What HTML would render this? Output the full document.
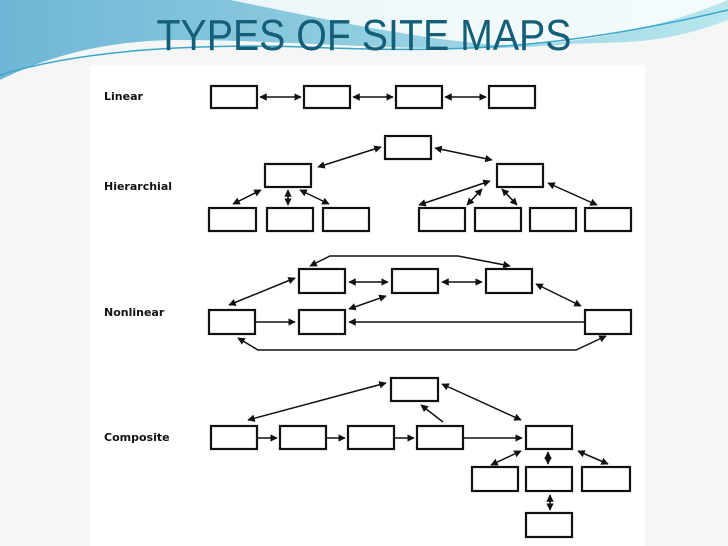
<!DOCTYPE html>
<html><head><meta charset="utf-8"><style>
html,body{margin:0;padding:0;width:728px;height:546px;overflow:hidden;background:#f5f6f6;}
</style></head><body>
<svg width="728" height="546" viewBox="0 0 728 546" xmlns="http://www.w3.org/2000/svg" style="position:absolute;left:0;top:0">
<defs>
<linearGradient id="bg" x1="0" y1="0" x2="1" y2="0">
<stop offset="0" stop-color="#6fb6d6"/><stop offset="0.5" stop-color="#8fcde0"/><stop offset="1" stop-color="#b8e6ee"/></linearGradient>
<marker id="a" viewBox="0 0 10 10" refX="9" refY="5" markerWidth="5" markerHeight="5" orient="auto-start-reverse"><path d="M0,0L10,5L0,10z" fill="#111"/></marker>
</defs>
<rect width="728" height="546" fill="#f5f6f6"/>
<path d="M0,0H728V20C650,50 600,40 560,45C430,55 300,40 180,40C100,40 40,60 0,80Z" fill="url(#bg)"/>
<path d="M230,0C330,20 420,40 500,45C600,45 680,20 728,0Z" fill="#fff" opacity="0.85"/>
<path d="M0,75C80,50 200,42 330,48C450,52 560,50 728,10" stroke="#3aa7c8" stroke-width="1.5" fill="none"/>
<text x="364" y="50" text-anchor="middle" font-family="Liberation Sans, sans-serif" font-size="44" fill="#155e78" textLength="415" lengthAdjust="spacingAndGlyphs">TYPES OF SITE MAPS</text>
<rect x="90" y="65" width="555" height="481" fill="#fff"/>
<g font-family="DejaVu Sans, sans-serif" font-weight="bold" font-size="11" fill="#111">
<text x="104" y="100">Linear</text><text x="104" y="190">Hierarchial</text><text x="104" y="316">Nonlinear</text><text x="104" y="441">Composite</text>
</g>
<g fill="#fff" stroke="#111" stroke-width="2.2">
<rect x="211" y="86" width="46" height="22"/><rect x="304" y="86" width="46" height="22"/><rect x="396" y="86" width="46" height="22"/><rect x="489" y="86" width="46" height="22"/>
<rect x="385" y="136" width="46" height="23"/><rect x="265" y="164" width="46" height="23"/><rect x="497" y="164" width="46" height="23"/>
<rect x="209" y="208" width="47" height="23"/><rect x="267" y="208" width="46" height="23"/><rect x="323" y="208" width="46" height="23"/><rect x="419" y="208" width="46" height="23"/><rect x="475" y="208" width="46" height="23"/><rect x="530" y="208" width="46" height="23"/><rect x="585" y="208" width="46" height="23"/>
<rect x="299" y="269" width="46" height="24"/><rect x="392" y="269" width="46" height="24"/><rect x="486" y="269" width="46" height="24"/>
<rect x="209" y="310" width="46" height="24"/><rect x="299" y="310" width="46" height="24"/><rect x="585" y="310" width="46" height="24"/>
<rect x="391" y="378" width="47" height="23"/>
<rect x="211" y="426" width="46" height="23"/><rect x="280" y="426" width="46" height="23"/><rect x="348" y="426" width="46" height="23"/><rect x="417" y="426" width="46" height="23"/><rect x="526" y="426" width="46" height="23"/>
<rect x="472" y="467" width="46" height="24"/><rect x="526" y="467" width="46" height="24"/><rect x="582" y="467" width="48" height="24"/>
<rect x="526" y="513" width="46" height="24"/>
</g>
<g stroke="#111" stroke-width="1.5" fill="none">
<g marker-start="url(#a)" marker-end="url(#a)">
<line x1="260" y1="97" x2="301" y2="97"/><line x1="353" y1="97" x2="393" y2="97"/><line x1="445" y1="97" x2="486" y2="97"/>
<line x1="318" y1="167" x2="381" y2="147"/><line x1="435" y1="148" x2="492" y2="160"/>
<line x1="233" y1="204" x2="261" y2="190"/><line x1="288" y1="190" x2="288" y2="205"/><line x1="300" y1="190" x2="329" y2="204"/>
<line x1="419" y1="205" x2="490" y2="181"/><line x1="467" y1="205" x2="482" y2="189"/><line x1="502" y1="189" x2="517" y2="205"/><line x1="548" y1="183" x2="597" y2="205"/>
<path d="M310,266L330,256H458L510,266"/><path d="M238,338L258,350H576L606,336"/>
<line x1="229" y1="305" x2="295" y2="278"/><line x1="349" y1="282" x2="388" y2="282"/><line x1="442" y1="282" x2="482" y2="282"/><line x1="536" y1="284" x2="581" y2="306"/><line x1="349" y1="309" x2="386" y2="296"/>
<line x1="248" y1="420" x2="386" y2="383"/><line x1="442" y1="384" x2="521" y2="420"/>
<line x1="491" y1="465" x2="521" y2="451"/><line x1="548" y1="452" x2="548" y2="464"/><line x1="578" y1="451" x2="608" y2="464"/><line x1="550" y1="495" x2="550" y2="510"/>
</g>
<g marker-end="url(#a)">
<line x1="255" y1="322" x2="295" y2="322"/><line x1="585" y1="322" x2="349" y2="322"/>
<line x1="443" y1="422" x2="421" y2="405"/><line x1="258" y1="438" x2="277" y2="438"/><line x1="327" y1="438" x2="345" y2="438"/><line x1="395" y1="438" x2="414" y2="438"/><line x1="464" y1="438" x2="522" y2="438"/>
</g>
</g>
</svg>
</body></html>
